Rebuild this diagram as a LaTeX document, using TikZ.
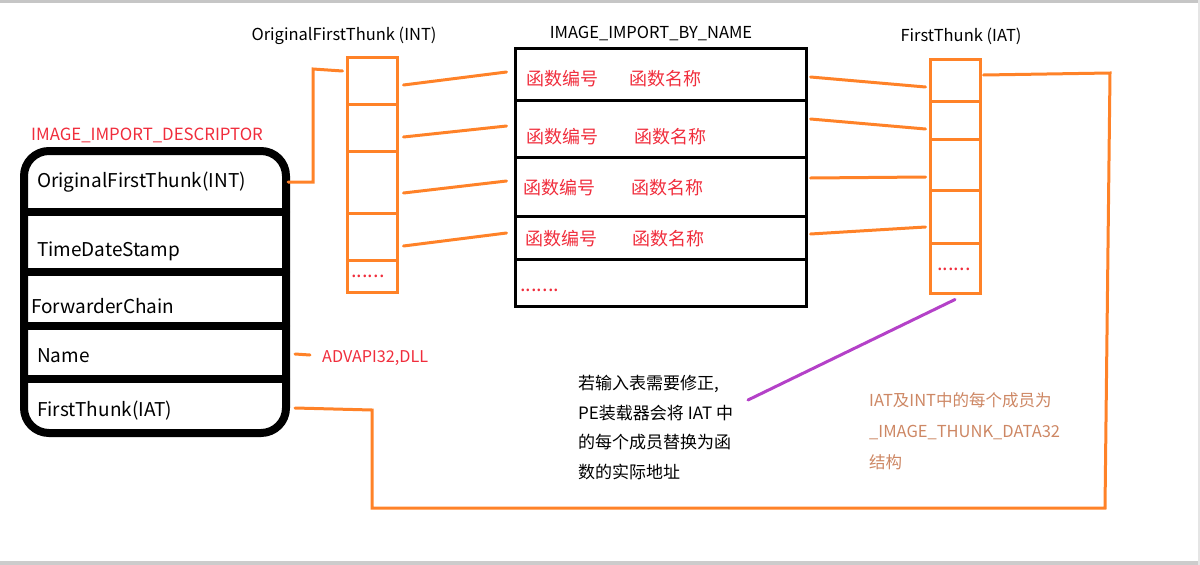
\documentclass[tikz,border=0pt]{standalone}
\usepackage{fontspec}
\setmainfont{Noto Sans CJK SC}
\usetikzlibrary{calc,positioning}

\definecolor{thunkorange}{RGB}{255,130,40}
\definecolor{fieldred}{RGB}{240,45,60}
\definecolor{notebrown}{RGB}{205,135,100}
\definecolor{notepurple}{RGB}{180,65,200}

\begin{document}
\begin{tikzpicture}[x=1pt,y=-1pt,
		link/.style={thunkorange,line width=3pt,line cap=round},
		cell/.style={draw=thunkorange,line width=3pt,minimum width=50pt,inner sep=0pt},
		row/.style={draw=black,line width=3pt,minimum width=291pt,inner sep=0pt},
		field/.style={anchor=west,inner sep=0pt,font=\fontsize{19}{21}\selectfont},
		head/.style={inner sep=0pt,font=\fontsize{16.5}{19}\selectfont},
		redtext/.style={anchor=west,inner sep=0pt,text=fieldred,font=\fontsize{18}{20}\selectfont},
		dots/.style={anchor=west,inner sep=0pt,text=fieldred,font=\fontsize{20}{20}\selectfont}]
	\useasboundingbox (0,0) rectangle (1200,565);
	\fill[gray!45] (0,0) rectangle (1200,2.5);
	\fill[gray!40] (0,561) rectangle (1200,565);
	\fill[gray!20] (1197.5,0) rectangle (1200,565);
	\node[redtext,font=\fontsize{16.8}{19}\selectfont] (desctitle) at (31,135) {IMAGE\_IMPORT\_DESCRIPTOR};
	\node[draw,line width=8pt,rounded corners=25pt,minimum width=262pt,minimum height=282pt,inner sep=0pt] (desc) at (155,292) {};
	\foreach \y in {212,272,326,379}
		\draw[line width=8pt,line cap=round] ($(desc.west |- 0,\y)+(4,0)$) -- ($(desc.east |- 0,\y)+(-4,0)$);
	\node[field] (f1) at (37,182) {OriginalFirstThunk(INT)};
	\node[field] (f2) at (37,251) {TimeDateStamp};
	\node[field] (f3) at (31,306) {ForwarderChain};
	\node[field] (f4) at (37,356) {Name};
	\node[field] (f5) at (37,411) {FirstThunk(IAT)};
	\node[head] (inthead) at (344,36) {OriginalFirstThunk (INT)};
	\foreach \t/\b [count=\i] in {57/104,104/151,151/213,213/260,260/292}
		\node[cell,minimum height=\b-\t] (int\i) at (372,{(\t+\b)/2}) {};
	\node[dots] (intdots) at (351,276) {......};
	\node[head] (namehead) at (651,33) {IMAGE\_IMPORT\_BY\_NAME};
	\foreach \t/\b [count=\i] in {48/100,100/157,157/216,216/259,259/306}
		\node[row,minimum height=\b-\t] (byname\i) at (660.5,{(\t+\b)/2}) {};
	\foreach \i/\y/\xa/\xb in {1/79/526/629,2/137/526/634,3/188/523/631,4/239/525/632} {
		\node[redtext] (ord\i) at (\xa,\y) {函数编号};
		\node[redtext] (fn\i) at (\xb,\y) {函数名称};
	}
	\node[dots] (namedots) at (520,290) {.......};
	\node[head] (iathead) at (961,36) {FirstThunk (IAT)};
	\foreach \t/\b [count=\i] in {59/101,101/139,139/190,190/243,243/293}
		\node[cell,minimum height=\b-\t] (iat\i) at (955,{(\t+\b)/2}) {};
	\node[dots] (iatdots) at (937,269) {......};
	\draw[link] ($(desc.east |- 0,182)+(-2,0)$) -- (313,182) -- (313,69) -- ($(int1.west |- 0,71)+(-3,0)$);
	\foreach \i/\a/\b in {1/85/72,2/137/126,3/193/181,4/246/233}
		\draw[link] ($(int\i.east |- 0,\a)+(5,0)$) -- ($(byname\i.west |- 0,\b)+(-7,0)$);
	\foreach \i/\a/\b in {1/77/87,2/119/129,3/178/177,4/234/227}
		\draw[link] ($(byname\i.east |- 0,\a)+(3,0)$) -- ($(iat\i.west |- 0,\b)+(-3,0)$);
	\draw[link] ($(iat1.east |- 0,75)+(2,0)$) -- (1110,73) -- (1105,508) -- (372,508) -- (372,410) -- ($(desc.east |- 0,408)+(5,0)$);
	\node[redtext,font=\fontsize{16.2}{19}\selectfont] (dll) at (322,358) {ADVAPI32,DLL};
	\draw[link] ($(desc.east |- 0,354)+(5,0)$) -- ($(dll.west |- 0,355)+(-12,0)$);
	\node[anchor=north west,align=left,inner sep=0pt,font=\fontsize{17}{29.5}\selectfont] (fixnote) at (578,375)
		{若输入表需要修正,\\PE装载器会将 IAT 中\\的每个成员替换为函\\数的实际地址};
	\coordinate (notetip) at (748,400);
	\draw[notepurple,line width=3pt,line cap=round] ($(iat5.south)+(0,5)$) -- (notetip);
	\node[anchor=north west,align=left,inner sep=0pt,text=notebrown,font=\fontsize{16.5}{31}\selectfont] (thunknote) at (869,392)
		{IAT及INT中的每个成员为\\\_IMAGE\_THUNK\_DATA32\\结构};
\end{tikzpicture}
\end{document}
